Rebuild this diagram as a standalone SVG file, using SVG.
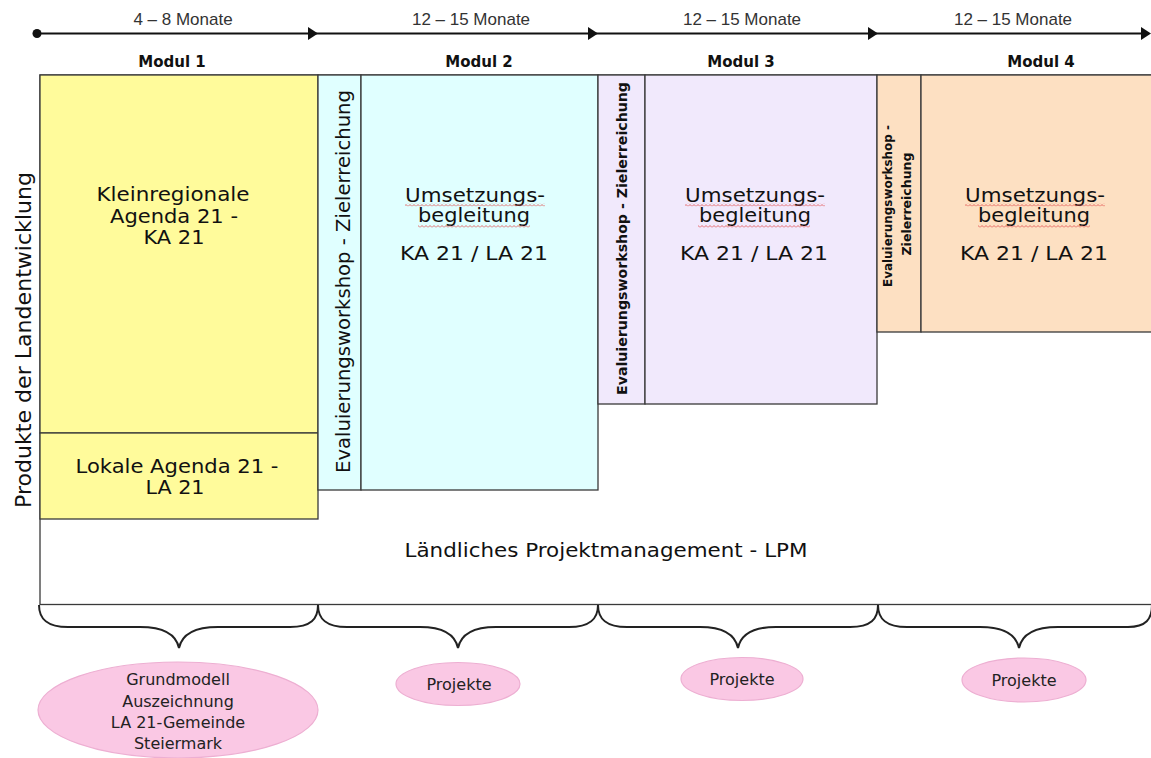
<svg xmlns="http://www.w3.org/2000/svg" width="1151" height="758" viewBox="0 0 1151 758">
<style>
.box{stroke:#3a3a3a;stroke-width:1.3}
.yel{fill:#FFFB9B}
.cyan{fill:#E0FFFF}
.lav{fill:#F1E9FC}
.peach{fill:#FDE0C2}
.t{font-family:"DejaVu Sans",Verdana,sans-serif;fill:#111;text-anchor:middle}
.big{font-size:19px}
.ev{font-size:19px}
.evb{font-size:14px;font-weight:bold}
.evs{font-size:11.5px;font-weight:bold}
.mod{font-size:15px;font-weight:bold}
.mon{font-family:"Liberation Sans",Arial,sans-serif;font-size:17px;fill:#333;text-anchor:middle}
.el{fill:#FAC8E4;stroke:#EDAFD2;stroke-width:1.2}
.et{font-family:"DejaVu Sans",Tahoma,sans-serif;font-size:16px;fill:#222;text-anchor:middle}
.brace{fill:none;stroke:#222;stroke-width:2}
.tl{stroke:#111;stroke-width:2}
.head{fill:#111}
</style>
<defs>
<pattern id="wavy" x="0" y="0" width="4" height="3" patternUnits="userSpaceOnUse">
<path d="M0,2.5 L2,0.5 L4,2.5" fill="none" stroke="#E04848" stroke-width="0.8"/>
</pattern>
</defs>
<rect x="0" y="0" width="1151" height="758" fill="#fff"/>

<g id="lpm">
<rect class="box" x="40" y="75" width="1130" height="529.5" fill="#fff"/>
<text class="t big" x="606" y="557" textLength="403" lengthAdjust="spacingAndGlyphs">Ländliches Projektmanagement - LPM</text>
</g>

<g id="produkte">
<text class="t" style="font-size:21px" transform="translate(31,340) rotate(-90)" textLength="336" lengthAdjust="spacingAndGlyphs">Produkte der Landentwicklung</text>
</g>

<g id="modul1">
<text class="t mod" x="172" y="67">Modul 1</text>
<rect class="box yel" x="40" y="75" width="278" height="358"/>
<text class="t big" x="173" y="201" textLength="153" lengthAdjust="spacingAndGlyphs">Kleinregionale</text>
<text class="t big" x="174" y="223" textLength="128" lengthAdjust="spacingAndGlyphs">Agenda 21 -</text>
<text class="t big" x="174" y="244" textLength="61" lengthAdjust="spacingAndGlyphs">KA 21</text>
</g>
<g id="modul1-la21">
<rect class="box yel" x="40" y="433" width="278" height="86"/>
<text class="t big" x="177" y="473" textLength="203" lengthAdjust="spacingAndGlyphs">Lokale Agenda 21 -</text>
<text class="t big" x="175" y="494" textLength="59" lengthAdjust="spacingAndGlyphs">LA 21</text>
</g>

<g id="modul2">
<text class="t mod" x="479" y="67">Modul 2</text>
<rect class="box cyan" x="318" y="75" width="43" height="415"/>
<text class="t ev" transform="translate(350,281.5) rotate(-90)" textLength="383" lengthAdjust="spacingAndGlyphs">Evaluierungsworkshop - Zielerreichung</text>
<rect class="box cyan" x="361" y="75" width="237" height="415"/>
<text class="t big" x="475" y="202" textLength="140" lengthAdjust="spacingAndGlyphs">Umsetzungs-</text>
<text class="t big" x="474" y="222" textLength="112" lengthAdjust="spacingAndGlyphs">begleitung</text>
<text class="t big" x="474" y="260" textLength="148" lengthAdjust="spacingAndGlyphs">KA 21 / LA 21</text>
<rect x="405" y="203.5" width="140" height="3" fill="url(#wavy)"/>
<rect x="418" y="225" width="112" height="3" fill="url(#wavy)"/>
</g>

<g id="modul3">
<text class="t mod" x="741" y="67">Modul 3</text>
<rect class="box lav" x="598" y="75" width="47" height="329"/>
<text class="t evb" transform="translate(627,238.5) rotate(-90)" textLength="313" lengthAdjust="spacingAndGlyphs">Evaluierungsworkshop - Zielerreichung</text>
<rect class="box lav" x="645" y="75" width="232" height="329"/>
<text class="t big" x="755" y="202" textLength="140" lengthAdjust="spacingAndGlyphs">Umsetzungs-</text>
<text class="t big" x="755" y="222" textLength="112" lengthAdjust="spacingAndGlyphs">begleitung</text>
<text class="t big" x="754" y="260" textLength="148" lengthAdjust="spacingAndGlyphs">KA 21 / LA 21</text>
<rect x="685" y="203.5" width="140" height="3" fill="url(#wavy)"/>
<rect x="698" y="225" width="112" height="3" fill="url(#wavy)"/>
</g>

<g id="modul4">
<text class="t mod" x="1041" y="67">Modul 4</text>
<rect class="box peach" x="877" y="75" width="44" height="257"/>
<text class="t evs" transform="translate(892,206) rotate(-90)" textLength="162" lengthAdjust="spacingAndGlyphs">Evaluierungsworkshop -</text>
<text class="t evs" transform="translate(911,204) rotate(-90)" textLength="103" lengthAdjust="spacingAndGlyphs">Zielerreichung</text>
<rect class="box peach" x="921" y="75" width="250" height="257"/>
<text class="t big" x="1035" y="202" textLength="140" lengthAdjust="spacingAndGlyphs">Umsetzungs-</text>
<text class="t big" x="1034" y="222" textLength="112" lengthAdjust="spacingAndGlyphs">begleitung</text>
<text class="t big" x="1034" y="260" textLength="148" lengthAdjust="spacingAndGlyphs">KA 21 / LA 21</text>
<rect x="965" y="203.5" width="140" height="3" fill="url(#wavy)"/>
<rect x="978" y="225" width="112" height="3" fill="url(#wavy)"/>
</g>

<g id="timeline-labels">
<text class="mon" x="183" y="25">4 – 8 Monate</text>
<text class="mon" x="471" y="25">12 – 15 Monate</text>
<text class="mon" x="742" y="25">12 – 15 Monate</text>
<text class="mon" x="1013" y="25">12 – 15 Monate</text>
</g>

<g id="connectors">
<line class="tl" x1="37" y1="33.5" x2="1149" y2="33.5"/>
<circle class="head" cx="37" cy="33.5" r="4.5"/>
<polygon class="head" points="308,27 318,33.5 308,40"/>
<polygon class="head" points="588,27 598,33.5 588,40"/>
<polygon class="head" points="868,27 878,33.5 868,40"/>
<polygon class="head" points="1141,27 1151,33.5 1141,40"/>
<path class="brace" d="M39,605 C39,619 47,627 68,627 L140,627 C163,627 176,634 179,648 C182,634 195,627 218,627 L290,627 C311,627 318,619 318,605"/>
<path class="brace" d="M318,605 C318,619 326,627 347,627 L420,627 C443,627 455,634 458,648 C461,634 473,627 496,627 L569,627 C590,627 598,619 598,605"/>
<path class="brace" d="M598,605 C598,619 606,627 627,627 L700,627 C723,627 735,634 738,648 C741,634 753,627 776,627 L850,627 C871,627 878,619 878,605"/>
<path class="brace" d="M878,605 C878,619 886,627 907,627 L980,627 C1003,627 1016,634 1019,648 C1022,634 1035,627 1058,627 L1128,627 C1146,627 1152,619 1152,605"/>
</g>

<g id="grundmodell">
<ellipse class="el" cx="178" cy="710" rx="140" ry="48"/>
<text class="et" x="178" y="685">Grundmodell</text>
<text class="et" x="178" y="707">Auszeichnung</text>
<text class="et" x="178" y="728">LA 21-Gemeinde</text>
<text class="et" x="178" y="749">Steiermark</text>
</g>
<g id="projekte2">
<ellipse class="el" cx="458" cy="684" rx="62" ry="21.5"/>
<text class="et" x="459" y="689.5">Projekte</text>
</g>
<g id="projekte3">
<ellipse class="el" cx="742" cy="679" rx="61" ry="21.5"/>
<text class="et" x="742" y="684.5">Projekte</text>
</g>
<g id="projekte4">
<ellipse class="el" cx="1024" cy="680" rx="62" ry="22"/>
<text class="et" x="1024" y="685.5">Projekte</text>
</g>
</svg>
